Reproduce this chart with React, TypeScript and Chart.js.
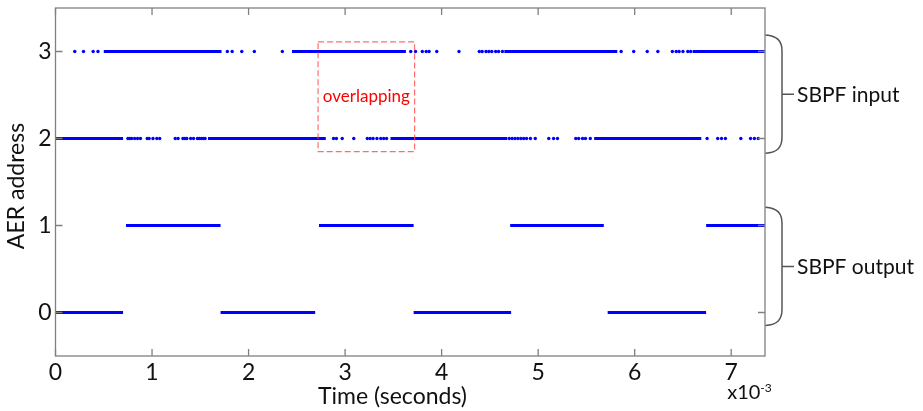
import React, { useEffect, useRef } from "react";
import { Chart, registerables } from "chart.js";

Chart.register(...registerables);

// Time axis in units of 1e-3 s
const X_MIN = 0;
const X_MAX = 7.35;
const Y_MIN = -0.5;
const Y_MAX = 3.5;
const xTickValues = [0, 1, 2, 3, 4, 5, 6, 7];
const yTickValues = [0, 1, 2, 3];

// SBPF output (addresses 0 and 1): continuous spike trains
const out0Spans: [number, number][] = [[0, 0.70], [1.71, 2.69], [3.71, 4.72], [5.72, 6.74]];
const out1Spans: [number, number][] = [[0.73, 1.71], [2.73, 3.71], [4.71, 5.68], [6.74, 7.35]];

// SBPF input (addresses 2 and 3): dense runs plus sparse events
const in2Spans: [number, number][] = [[0, 0.70], [1.58, 2.80], [3.47, 4.68], [5.58, 6.69]];
const in2Dots = [0.75, 0.77, 0.79, 0.82, 0.85, 0.88, 0.95, 0.97, 1.01, 1.05, 1.08, 1.24, 1.27, 1.32, 1.34, 1.36, 1.40, 1.43, 1.47, 1.49, 1.51, 1.53, 1.55,
  2.88, 2.91, 2.97, 3.09, 3.23, 3.26, 3.29, 3.33, 3.37, 3.40, 3.43,
  4.70, 4.73, 4.76, 4.79, 4.82, 4.85, 4.88, 4.92, 4.97, 5.11, 5.16, 5.20, 5.39, 5.42, 5.46, 5.49, 5.54,
  6.75, 6.86, 6.90, 6.94, 7.10, 7.20, 7.24, 7.28];
const in3Spans: [number, number][] = [[0.50, 1.72], [2.45, 3.63], [4.65, 5.82], [6.60, 7.35]];
const in3Dots = [0.20, 0.29, 0.39, 0.44, 1.78, 1.83, 1.93, 2.06, 2.35,
  3.68, 3.73, 3.80, 3.84, 3.87, 3.95, 4.18, 4.39, 4.42, 4.46, 4.49, 4.52, 4.56, 4.59, 4.63,
  5.86, 5.99, 6.13, 6.24, 6.39, 6.43, 6.46, 6.50, 6.55, 6.58];

// annotations
const overlapX = [2.72, 3.72];
const overlapY = [1.85, 3.11];
const overlapLabel = "overlapping";
const overlapLabelY = 2.48;
const braceInput = [1.83, 3.19];
const braceOutput = [-0.15, 1.21];
const braceLabels = ["SBPF input", "SBPF output"];
const xTitle = "Time (seconds)";
const yTitle = "AER address";

const FONT = "Lato, 'Open Sans', sans-serif";
const BLUE = "#0000ff";
const AXIS = "#808080";

function spansToPoints(spans: [number, number][], y: number) {
  const pts: { x: number; y: number | null }[] = [];
  spans.forEach(([a, b]) => {
    pts.push({ x: a, y });
    pts.push({ x: b, y });
    pts.push({ x: b, y: null });
  });
  return pts;
}

const decorPlugin = {
  id: "decor",
  afterDraw(chart: any) {
    const { ctx, chartArea, scales } = chart;
    const xs = scales.x;
    const ys = scales.y;
    const { left, right, top, bottom } = chartArea;
    ctx.save();
    // axis box
    ctx.strokeStyle = AXIS;
    ctx.lineWidth = 1.3;
    ctx.strokeRect(left, top, right - left, bottom - top);
    // inner ticks
    const tl = 7;
    ctx.beginPath();
    xTickValues.forEach((v) => {
      const px = xs.getPixelForValue(v);
      ctx.moveTo(px, bottom);
      ctx.lineTo(px, bottom - tl);
      ctx.moveTo(px, top);
      ctx.lineTo(px, top + tl);
    });
    yTickValues.forEach((v) => {
      const py = ys.getPixelForValue(v);
      ctx.moveTo(left, py);
      ctx.lineTo(left + tl, py);
      ctx.moveTo(right, py);
      ctx.lineTo(right - tl, py);
    });
    ctx.stroke();

    // overlapping box
    const bx0 = xs.getPixelForValue(overlapX[0]);
    const bx1 = xs.getPixelForValue(overlapX[1]);
    const by0 = ys.getPixelForValue(overlapY[1]);
    const by1 = ys.getPixelForValue(overlapY[0]);
    ctx.setLineDash([6, 3]);
    ctx.strokeStyle = "rgba(255,60,60,0.75)";
    ctx.lineWidth = 1.2;
    ctx.strokeRect(bx0, by0, bx1 - bx0, by1 - by0);
    ctx.setLineDash([]);
    ctx.fillStyle = "#ff0000";
    ctx.font = `17px ${FONT}`;
    ctx.textAlign = "center";
    ctx.textBaseline = "middle";
    ctx.fillText(overlapLabel, (bx0 + bx1) / 2, ys.getPixelForValue(overlapLabelY));

    // braces
    ctx.strokeStyle = "#555555";
    ctx.lineWidth = 1.5;
    const x0 = right + 0.5;
    const x1 = right + 17;
    [braceInput, braceOutput].forEach((br, i) => {
      const yT = ys.getPixelForValue(br[1]);
      const yB = ys.getPixelForValue(br[0]);
      const yM = (yT + yB) / 2;
      ctx.beginPath();
      ctx.moveTo(x0, yT);
      ctx.bezierCurveTo(x0 + 12, yT + 1, x1, yT + 6, x1, yT + 16);
      ctx.lineTo(x1, yB - 16);
      ctx.bezierCurveTo(x1, yB - 6, x0 + 12, yB - 1, x0, yB);
      ctx.moveTo(x1, yM);
      ctx.lineTo(x1 + 12, yM);
      ctx.stroke();
      ctx.fillStyle = "#111111";
      ctx.font = `21px ${FONT}`;
      ctx.textAlign = "left";
      ctx.textBaseline = "middle";
      ctx.fillText(braceLabels[i], x1 + 15, yM + 1);
    });

    // axis titles
    ctx.fillStyle = "#111111";
    ctx.font = `23px ${FONT}`;
    ctx.textAlign = "center";
    ctx.textBaseline = "middle";
    ctx.fillText(xTitle, left + (right - left) * 0.475, 397);
    ctx.save();
    ctx.translate(17, (top + bottom) / 2 + 4);
    ctx.rotate(-Math.PI / 2);
    ctx.fillText(yTitle, 0, 0);
    ctx.restore();

    // exponent label
    const x7 = xs.getPixelForValue(7);
    ctx.textAlign = "left";
    ctx.textBaseline = "alphabetic";
    ctx.font = `20px ${FONT}`;
    ctx.fillText("x10", x7 - 4, 399);
    const w = ctx.measureText("x10").width;
    ctx.font = `12px ${FONT}`;
    ctx.fillText("-3", x7 - 4 + w, 392);
    ctx.restore();
  },
};

export default function App() {
  const ref = useRef<HTMLCanvasElement | null>(null);
  useEffect(() => {
    if (!ref.current) return;
    const dotStyle = {
      type: "scatter" as const,
      pointRadius: 1.7,
      pointBackgroundColor: BLUE,
      pointBorderWidth: 0,
      showLine: false,
    };
    const lineStyle = {
      type: "line" as const,
      borderColor: BLUE,
      borderWidth: 3,
      pointRadius: 0,
      spanGaps: false,
      borderCapStyle: "butt" as const,
    };
    const chart = new Chart(ref.current, {
      type: "line",
      data: {
        datasets: [
          { ...lineStyle, label: "addr 0", data: spansToPoints(out0Spans, 0) },
          { ...lineStyle, label: "addr 1", data: spansToPoints(out1Spans, 1) },
          { ...lineStyle, label: "addr 2", data: spansToPoints(in2Spans, 2) },
          { ...lineStyle, label: "addr 3", data: spansToPoints(in3Spans, 3) },
          { ...dotStyle, label: "addr 2 events", data: in2Dots.map((x) => ({ x, y: 2 })) },
          { ...dotStyle, label: "addr 3 events", data: in3Dots.map((x) => ({ x, y: 3 })) },
        ] as any,
      },
      options: {
        animation: false,
        responsive: false,
        maintainAspectRatio: false,
        layout: { padding: { top: 8, right: 158, left: 0, bottom: 0 } },
        plugins: { legend: { display: false }, tooltip: { enabled: false } },
        scales: {
          x: {
            type: "linear",
            min: X_MIN,
            max: X_MAX,
            grid: { display: false, drawTicks: false },
            border: { display: false },
            ticks: {
              autoSkip: false,
              maxRotation: 0,
              padding: 3,
              color: "#111111",
              font: { family: FONT, size: 23 },
            },
            afterBuildTicks: (s: any) => { s.ticks = xTickValues.map((value) => ({ value })); },
            afterFit: (s: any) => { s.height = 55; s.paddingLeft = 0; s.paddingRight = 0; },
          },
          y: {
            type: "linear",
            min: Y_MIN,
            max: Y_MAX,
            grid: { display: false, drawTicks: false },
            border: { display: false },
            ticks: {
              padding: 4,
              color: "#111111",
              font: { family: FONT, size: 23 },
            },
            afterBuildTicks: (s: any) => { s.ticks = yTickValues.map((value) => ({ value })); },
            afterFit: (s: any) => { s.width = 55.5; s.paddingTop = 0; s.paddingBottom = 0; },
          },
        },
      },
      plugins: [decorPlugin],
    });
    return () => chart.destroy();
  }, []);
  return (
    <div style={{ position: "absolute", left: 0, top: 0, width: 923, height: 411, background: "#fff" }}>
      <canvas ref={ref} width={923} height={411} style={{ display: "block" }} />
    </div>
  );
}
